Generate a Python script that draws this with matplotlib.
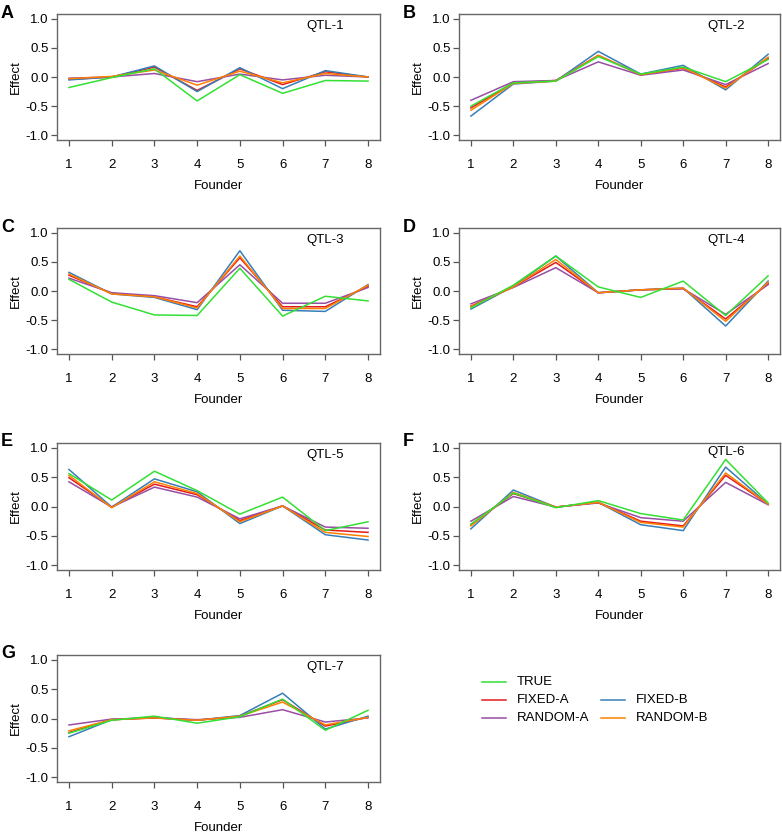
import matplotlib
matplotlib.use("Agg")
import matplotlib.pyplot as plt
from matplotlib.lines import Line2D

plt.rcParams['font.family'] = ['Liberation Sans', 'DejaVu Sans']

founders = [1, 2, 3, 4, 5, 6, 7, 8]
panel_letters = ["A", "B", "C", "D", "E", "F", "G"]
qtl_names = ["QTL-1", "QTL-2", "QTL-3", "QTL-4", "QTL-5", "QTL-6", "QTL-7"]
series_names = ["TRUE", "FIXED-A", "FIXED-B", "RANDOM-A", "RANDOM-B"]

true_vals = [
    [-0.18, -0.01, 0.14, -0.41, 0.04, -0.28, -0.06, -0.07],
    [-0.50, -0.10, -0.07, 0.35, 0.05, 0.17, -0.08, 0.30],
    [0.20, -0.19, -0.41, -0.42, 0.39, -0.43, -0.09, -0.17],
    [-0.29, 0.10, 0.60, 0.07, -0.11, 0.17, -0.42, 0.26],
    [0.56, 0.11, 0.60, 0.27, -0.13, 0.16, -0.41, -0.26],
    [-0.30, 0.23, -0.02, 0.10, -0.12, -0.23, 0.80, 0.06],
    [-0.25, -0.03, 0.04, -0.08, 0.03, 0.33, -0.20, 0.14],
]
fixed_a = [
    [-0.04, 0.00, 0.17, -0.23, 0.14, -0.13, 0.09, 0.00],
    [-0.53, -0.10, -0.06, 0.37, 0.04, 0.15, -0.17, 0.32],
    [0.27, -0.04, -0.10, -0.27, 0.57, -0.27, -0.27, 0.08],
    [-0.26, 0.07, 0.49, -0.03, 0.02, 0.04, -0.48, 0.13],
    [0.49, -0.01, 0.38, 0.20, -0.24, 0.01, -0.40, -0.44],
    [-0.31, 0.22, -0.01, 0.07, -0.25, -0.33, 0.53, 0.04],
    [-0.24, -0.02, 0.01, -0.03, 0.04, 0.32, -0.13, 0.02],
]
fixed_b = [
    [-0.05, 0.00, 0.19, -0.25, 0.16, -0.20, 0.11, 0.00],
    [-0.67, -0.12, -0.07, 0.44, 0.05, 0.20, -0.22, 0.39],
    [0.32, -0.05, -0.11, -0.32, 0.69, -0.33, -0.35, 0.11],
    [-0.31, 0.08, 0.60, -0.03, 0.02, 0.05, -0.60, 0.17],
    [0.63, -0.01, 0.47, 0.25, -0.29, 0.01, -0.48, -0.57],
    [-0.38, 0.28, -0.01, 0.07, -0.31, -0.41, 0.67, 0.04],
    [-0.31, -0.02, 0.02, -0.03, 0.05, 0.43, -0.18, 0.04],
]
random_a = [
    [-0.02, 0.00, 0.06, -0.08, 0.05, -0.05, 0.03, 0.00],
    [-0.40, -0.08, -0.06, 0.26, 0.03, 0.12, -0.13, 0.23],
    [0.22, -0.03, -0.08, -0.20, 0.45, -0.21, -0.21, 0.06],
    [-0.22, 0.06, 0.40, -0.03, 0.02, 0.04, -0.40, 0.11],
    [0.42, -0.01, 0.33, 0.16, -0.21, 0.01, -0.35, -0.37],
    [-0.25, 0.17, -0.01, 0.06, -0.19, -0.25, 0.41, 0.03],
    [-0.11, -0.01, 0.01, -0.02, 0.02, 0.15, -0.06, 0.01],
]
random_b = [
    [-0.03, 0.01, 0.12, -0.14, 0.10, -0.10, 0.06, 0.00],
    [-0.57, -0.11, -0.07, 0.37, 0.04, 0.16, -0.19, 0.34],
    [0.29, -0.05, -0.10, -0.29, 0.60, -0.30, -0.30, 0.10],
    [-0.27, 0.07, 0.54, -0.03, 0.02, 0.05, -0.52, 0.15],
    [0.53, -0.02, 0.42, 0.22, -0.26, 0.01, -0.44, -0.51],
    [-0.33, 0.24, -0.01, 0.07, -0.27, -0.35, 0.57, 0.04],
    [-0.21, -0.02, 0.01, -0.03, 0.04, 0.28, -0.11, 0.02],
]

colors = {
    "TRUE": "#33e033",
    "FIXED-A": "#e41a1c",
    "FIXED-B": "#377eb8",
    "RANDOM-A": "#984ea3",
    "RANDOM-B": "#ff7f00",
}
data = {
    "TRUE": true_vals,
    "FIXED-A": fixed_a,
    "FIXED-B": fixed_b,
    "RANDOM-A": random_a,
    "RANDOM-B": random_b,
}
draw_order = ["FIXED-A", "FIXED-B", "RANDOM-A", "RANDOM-B", "TRUE"]

W, H = 782, 835
fig = plt.figure(figsize=(W / 100, H / 100), dpi=100)

# pixel boxes: (left, right, top, bottom)
cols = [(57, 380), (459, 780)]
rows = [(14, 140), (228, 354), (443, 570), (655, 782)]

for i in range(7):
    r, c = divmod(i, 2)
    l, rt = cols[c]
    t, b = rows[r]
    ax = fig.add_axes([l / W, 1 - b / H, (rt - l) / W, (b - t) / H])
    for name in draw_order:
        ax.plot(founders, data[name][i], color=colors[name], lw=1.1)
    ax.set_xlim(0.72, 8.28)
    ax.set_ylim(-1.08, 1.08)
    ax.set_xticks(founders)
    ax.set_yticks([-1.0, -0.5, 0.0, 0.5, 1.0])
    ax.set_yticklabels(["-1.0", "-0.5", "0.0", "0.5", "1.0"])
    ax.tick_params(axis='x', length=4, width=0.9, pad=10, labelsize=9.5, color='#555555')
    ax.tick_params(axis='y', length=4, width=0.9, pad=2, labelsize=9.5, color='#555555')
    for sp in ax.spines.values():
        sp.set_color('#666666')
        sp.set_linewidth(1.0)
    ax.set_xlabel("Founder", fontsize=9.5, labelpad=6)
    ax.set_ylabel("Effect", fontsize=9.5, labelpad=3)
    ty = 0.93 if i == 5 else 0.88
    ax.text(7.0, ty, qtl_names[i], ha='center', va='center', fontsize=9.5)
    fig.text((l - 56) / W, 1 - (t - 1) / H, panel_letters[i], fontsize=13,
             fontweight='bold', ha='left', va='center')

# legend
legend_items = [
    (482, 506, 517, 682, "TRUE"),
    (482, 506, 517, 700, "FIXED-A"),
    (482, 506, 517, 718, "RANDOM-A"),
    (601, 625, 636, 700, "FIXED-B"),
    (601, 625, 636, 718, "RANDOM-B"),
]
for x0, x1, xt, y, name in legend_items:
    fig.add_artist(Line2D([x0 / W, x1 / W], [1 - y / H, 1 - y / H],
                          color=colors[name], lw=1.1, transform=fig.transFigure))
    fig.text(xt / W, 1 - y / H, name, fontsize=9.5, ha='left', va='center')

fig.savefig("out.png", dpi=100)
